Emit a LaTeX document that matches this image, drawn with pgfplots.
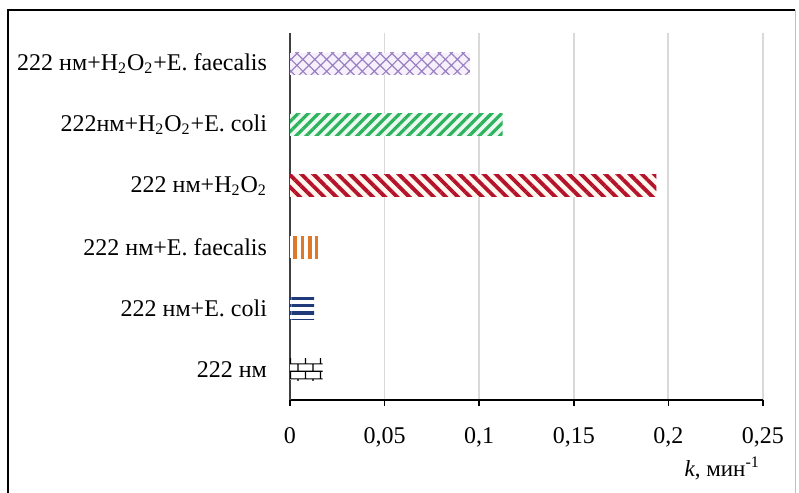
\documentclass[border=0pt]{standalone}
\usepackage{pgfplots}
\pgfplotsset{compat=1.18}
\usepackage{fontspec}
\setmainfont{Liberation Serif}
\usetikzlibrary{patterns,patterns.meta}

\pgfdeclarepatternformonly{mybricks}{\pgfpointorigin}{\pgfpoint{7.4pt}{7.4pt}}{\pgfpoint{7.4pt}{7.4pt}}{%
  \pgfsetlinewidth{0.6pt}%
  \pgfpathmoveto{\pgfpoint{0pt}{1.85pt}}\pgfpathlineto{\pgfpoint{7.4pt}{1.85pt}}%
  \pgfpathmoveto{\pgfpoint{0pt}{5.55pt}}\pgfpathlineto{\pgfpoint{7.4pt}{5.55pt}}%
  \pgfpathmoveto{\pgfpoint{1pt}{1.85pt}}\pgfpathlineto{\pgfpoint{1pt}{5.55pt}}%
  \pgfpathmoveto{\pgfpoint{4.7pt}{5.55pt}}\pgfpathlineto{\pgfpoint{4.7pt}{7.4pt}}%
  \pgfpathmoveto{\pgfpoint{4.7pt}{0pt}}\pgfpathlineto{\pgfpoint{4.7pt}{1.85pt}}%
  \pgfusepath{stroke}}

\definecolor{cPurple}{HTML}{9A80C2}
\definecolor{cPurpleBg}{HTML}{F6F0FC}
\definecolor{cGreen}{HTML}{2DB35D}
\definecolor{cGreenBg}{HTML}{ECFAF1}
\definecolor{cRed}{HTML}{B5122B}
\definecolor{cRedBg}{HTML}{FFF6EE}
\definecolor{cOrange}{HTML}{E0782A}
\definecolor{cNavy}{HTML}{1F3A78}
\definecolor{cGrid}{HTML}{D9D9D9}

\begin{document}
\begin{tikzpicture}
\useasboundingbox (0,0) rectangle (399.5pt,246.5pt);
\draw[black, line width=1.2pt] (4pt,-1pt) -- (4pt,241.5pt) -- (397.5pt,241.5pt);
\draw[gray!50, line width=0.5pt] (397.5pt,241.5pt) -- (397.5pt,-1pt);
\begin{axis}[
  at={(145pt,46.5pt)}, anchor=south west,
  scale only axis, width=236.5pt, height=183.5pt,
  xmin=0, xmax=0.25, ymin=-0.5, ymax=5.5,
  axis x line*=bottom, axis y line*=left,
  axis line style={-},
  x axis line style={black, line width=0.8pt},
  y axis line style={black!75, line width=1.1pt},
  xtick={0,0.05,0.1,0.15,0.2,0.25},
  xticklabels={0,{0,05},{0,1},{0,15},{0,2},{0,25}},
  ytick={0,1,2,3,4,5},
  yticklabels={222 нм, 222 нм+E. coli, 222 нм+E. faecalis, 222 нм+H\textsubscript{2}O\textsubscript{2}, 222нм+H\textsubscript{2}O\textsubscript{2}+E. coli, 222 нм+H\textsubscript{2}O\textsubscript{2}+E. faecalis},
  tick align=outside,
  major tick length=3pt,
  x tick style={black, line width=0.8pt},
  y tick style={draw=none},
  tick label style={font=\fontsize{12}{14}\selectfont},
  yticklabel style={xshift=-5pt},
  xticklabel style={yshift=-7pt},
  xmajorgrids, grid style={cGrid, line width=0.9pt},
  xlabel={\textit{k}, мин\textsuperscript{-1}},
  xlabel style={at={(rel axis cs:1,0)}, anchor=north east, yshift=-25pt, xshift=2pt, font=\fontsize{11.5}{13}\selectfont},
  clip=false,
]
\addplot[xbar, bar width=11pt, bar shift=0pt, draw=none, fill=white, postaction={pattern=mybricks, pattern color=black}] coordinates {(0.0173,0)};
\addplot[xbar, bar width=11pt, bar shift=0pt, draw=none, fill=white, postaction={pattern={Lines[angle=0, distance=3.6pt, line width=1.6pt]}, pattern color=cNavy}] coordinates {(0.0127,1)};
\addplot[xbar, bar width=11pt, bar shift=0pt, draw=none, fill=white, postaction={pattern={Lines[angle=90, distance=3.6pt, line width=1.9pt]}, pattern color=cOrange}] coordinates {(0.0148,2)};
\addplot[xbar, bar width=11pt, bar shift=0pt, draw=none, fill=cRedBg, postaction={pattern={Lines[angle=-45, distance=4.3pt, line width=1.9pt]}, pattern color=cRed}] coordinates {(0.1936,3)};
\addplot[xbar, bar width=11pt, bar shift=0pt, draw=none, fill=cGreenBg, postaction={pattern={Lines[angle=45, distance=3.6pt, line width=1.6pt]}, pattern color=cGreen}] coordinates {(0.1124,4)};
\addplot[xbar, bar width=11pt, bar shift=0pt, draw=none, fill=cPurpleBg, postaction={pattern={Hatch[angle=45, distance=4.2pt, line width=0.6pt]}, pattern color=cPurple}] coordinates {(0.0951,5)};
\end{axis}
\end{tikzpicture}
\end{document}
